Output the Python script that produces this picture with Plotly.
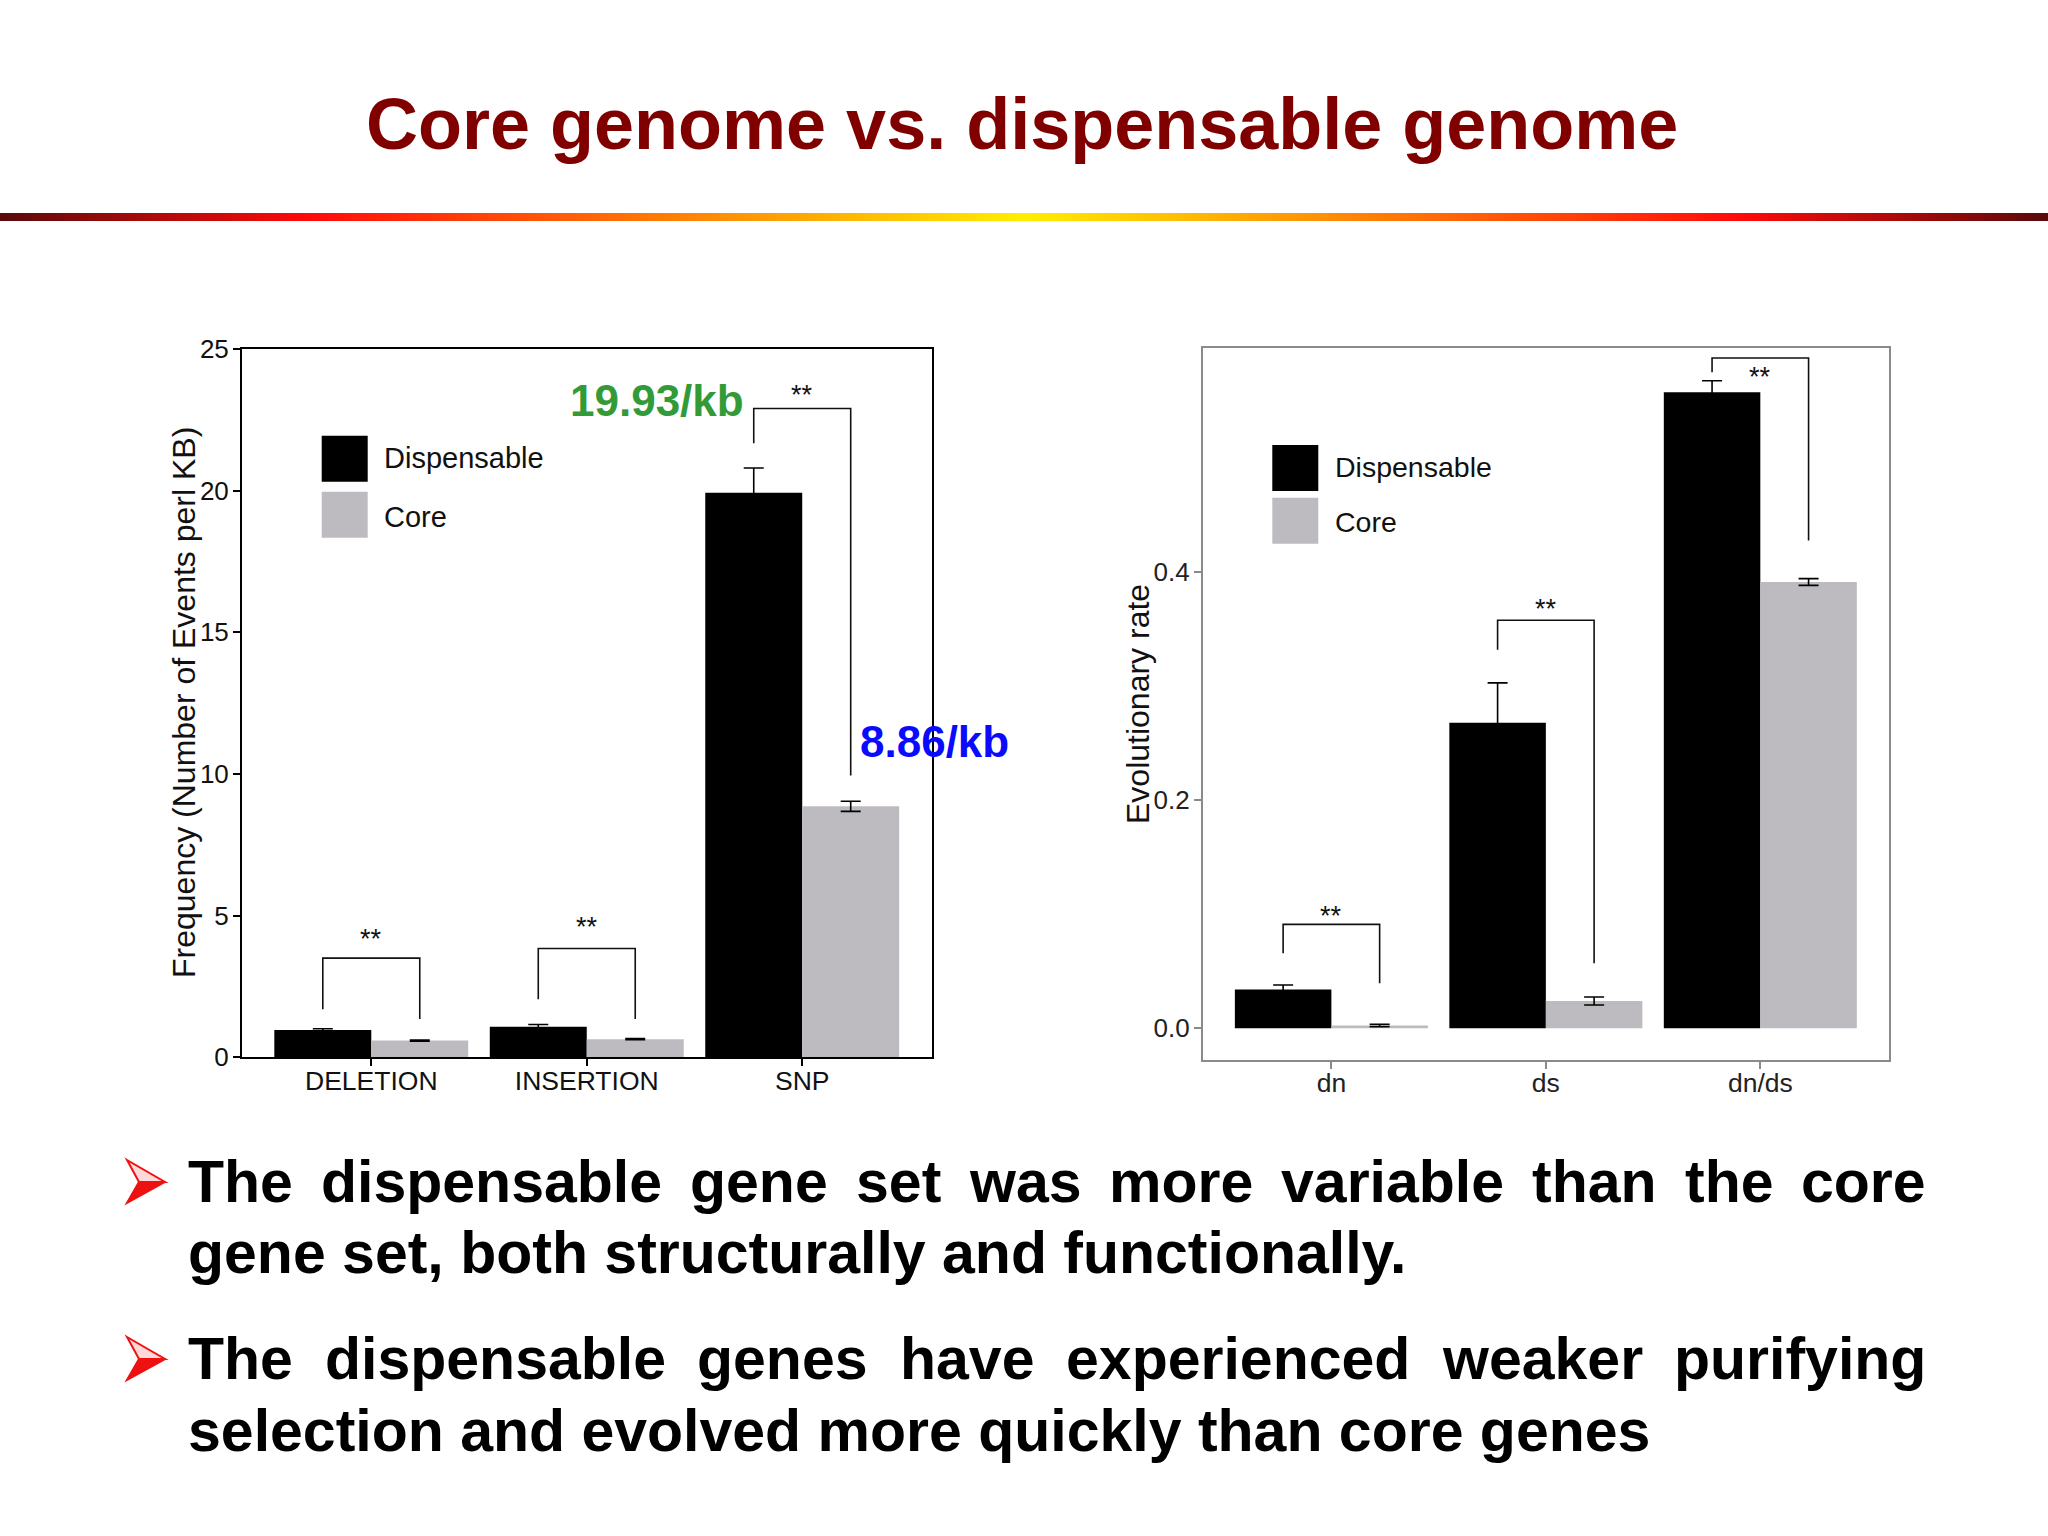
import plotly.graph_objects as go

W, H = 2048, 1536
FONT = "Liberation Sans, Arial, Helvetica, sans-serif"

# ---------------- data ----------------
left_categories = ["DELETION", "INSERTION", "SNP"]
left_dispensable = [0.96, 1.08, 19.93]
left_dispensable_err = [0.05, 0.08, 0.87]
left_core = [0.59, 0.64, 8.86]
left_core_err = [0.02, 0.02, 0.18]
left_sig_top = [3.50, 3.84, 22.90]
left_sig_left_end = [1.70, 2.05, 21.67]
left_sig_right_end = [1.35, 1.35, 9.95]
left_sig_label_y = [4.38, 4.82, 23.60]
left_yticks = [0, 5, 10, 15, 20, 25]

right_categories = ["dn", "ds", "dn/ds"]
right_dispensable = [0.034, 0.268, 0.558]
right_dispensable_err = [0.004, 0.035, 0.010]
right_core = [0.0025, 0.024, 0.3915]
right_core_err = [0.001, 0.0035, 0.003]
right_sig_top = [0.0912, 0.358, 0.588]
right_sig_left_end = [0.0658, 0.332, 0.5755]
right_sig_right_end = [0.0395, 0.057, 0.428]
right_sig_label_y = [0.104, 0.373, 0.5766]
right_yticks = [0.0, 0.2, 0.4]

series_names = ["Dispensable", "Core"]
sig_label = "**"
snp_labels = ["19.93/kb", "8.86/kb"]
left_ytitle = "Frequency (Number of Events perl KB)"
right_ytitle = "Evolutionary rate"
title_text = "Core genome vs. dispensable genome"
bullet_lines = [
    ("The dispensable gene set was more variable than the core", True),
    ("gene set, both structurally and functionally.", False),
    ("The dispensable genes have experienced weaker purifying", True),
    ("selection and evolved more quickly than core genes", False),
]

# ---------------- style ----------------
BLACK_BAR = "#000000"
GRAY_BAR = "#bdbbbf"
BARGAP = 0.1
HALF = (1 - BARGAP) / 4  # centre offset of each bar inside its group
XTICK_FS = 26.5
YTICK_FS = 26


def px(x):
    return x / W


def py(y):
    return 1 - y / H


fig = go.Figure()

panels = [
    dict(xa="x", ya="y", n=len(left_categories), d=left_dispensable, de=left_dispensable_err,
         c=left_core, ce=left_core_err, top=left_sig_top, le=left_sig_left_end,
         re=left_sig_right_end, sy=left_sig_label_y),
    dict(xa="x2", ya="y2", n=len(right_categories), d=right_dispensable, de=right_dispensable_err,
         c=right_core, ce=right_core_err, top=right_sig_top, le=right_sig_left_end,
         re=right_sig_right_end, sy=right_sig_label_y),
]

for p in panels:
    xs = list(range(p["n"]))
    for name, vals, errs, col in [(series_names[0], p["d"], p["de"], BLACK_BAR),
                                  (series_names[1], p["c"], p["ce"], GRAY_BAR)]:
        fig.add_trace(go.Bar(
            x=xs, y=vals, name=name, xaxis=p["xa"], yaxis=p["ya"],
            marker=dict(color=col, line=dict(width=0)),
            error_y=dict(type="data", array=errs, visible=True, color="#000000",
                         thickness=1.6, width=10),
            showlegend=False, hoverinfo="skip"))
    for i in xs:
        fig.add_trace(go.Scatter(
            x=[i - HALF, i - HALF, i + HALF, i + HALF],
            y=[p["le"][i], p["top"][i], p["top"][i], p["re"][i]],
            mode="lines", line=dict(color="#111111", width=1.6),
            xaxis=p["xa"], yaxis=p["ya"], showlegend=False, hoverinfo="skip"))
        fig.add_annotation(x=i, y=p["sy"][i], xref=p["xa"], yref=p["ya"], text=sig_label,
                           showarrow=False, yshift=-6, xanchor="center", yanchor="middle",
                           font=dict(size=27, color="#111111", family=FONT))

common_axis = dict(showgrid=False, zeroline=False, ticks="outside", ticklen=7,
                   tickwidth=1.5, mirror=True, showline=True, fixedrange=True)

fig.update_layout(
    width=W, height=H, autosize=False,
    margin=dict(l=0, r=0, t=0, b=0, pad=0, autoexpand=False),
    paper_bgcolor="white", plot_bgcolor="white",
    barmode="group", bargap=BARGAP, bargroupgap=0,
    showlegend=False,
    xaxis=dict(domain=[px(242), px(931.5)], range=[-0.6, 2.6], anchor="y",
               tickvals=list(range(len(left_categories))), ticktext=left_categories,
               linecolor="#000000", linewidth=2, tickcolor="#000000", ticklabelstandoff=-8,
               tickfont=dict(size=XTICK_FS, color="#111111", family=FONT), **common_axis),
    yaxis=dict(domain=[py(1057.3), py(349)], range=[0, 25], anchor="x",
               tickvals=left_yticks, ticklabelstandoff=-1,
               linecolor="#000000", linewidth=2, tickcolor="#000000",
               tickfont=dict(size=YTICK_FS, color="#111111", family=FONT), **common_axis),
    xaxis2=dict(domain=[px(1202.7), px(1889)], range=[-0.6, 2.6], anchor="y2",
                tickvals=list(range(len(right_categories))), ticktext=right_categories,
                linecolor="#8a8a8a", linewidth=1.5, tickcolor="#8a8a8a", ticklabelstandoff=-9,
                tickfont=dict(size=XTICK_FS, color="#222222", family=FONT), **common_axis),
    yaxis2=dict(domain=[py(1060), py(348.3)], range=[-0.0278, 0.5965], anchor="x2",
                tickvals=right_yticks, tickformat=".1f", ticklabelstandoff=-1,
                linecolor="#8a8a8a", linewidth=1.5, tickcolor="#8a8a8a",
                tickfont=dict(size=YTICK_FS, color="#222222", family=FONT), **common_axis),
)

shapes = []
annos = []

# axis titles
annos.append(dict(x=px(184), y=py(703), text=left_ytitle, textangle=-90,
                  font=dict(size=32, color="#111111", family=FONT)))
annos.append(dict(x=px(1138), y=py(704), text=right_ytitle, textangle=-90,
                  font=dict(size=32, color="#111111", family=FONT)))

# legends
for (lx, ly, tx, tys, fs) in [(321.7, [435.7, 491.7], 382, [458.3, 517], 29),
                              (1272.3, [445, 497.7], 1332.5, [466.7, 521.7], 28.5)]:
    for k, col in enumerate([BLACK_BAR, GRAY_BAR]):
        shapes.append(dict(type="rect", xref="paper", yref="paper",
                           x0=px(lx), x1=px(lx + 46), y0=py(ly[k]), y1=py(ly[k] + 46),
                           fillcolor=col, line=dict(width=0), layer="above"))
        annos.append(dict(x=px(tx), y=py(tys[k]), text=series_names[k], xanchor="left",
                          font=dict(size=fs, color="#111111", family=FONT)))

# SNP value labels
annos.append(dict(x=px(656.8), y=py(400.8), text="<b>%s</b>" % snp_labels[0],
                  font=dict(size=44, color="#339a38", family=FONT)))
annos.append(dict(x=px(934), y=py(741.3), text="<b>%s</b>" % snp_labels[1],
                  font=dict(size=44, color="#0a0aff", family=FONT)))

# title
annos.append(dict(x=px(1022), y=py(124), text="<b>%s</b>" % title_text,
                  font=dict(size=72, color="#800000", family=FONT)))

# gradient rule
stops = [(0.0, (90, 10, 10)), (0.15, (255, 10, 10)), (0.5, (255, 238, 0)),
         (0.85, (255, 10, 10)), (1.0, (90, 10, 10))]


def grad(t):
    for (t0, c0), (t1, c1) in zip(stops[:-1], stops[1:]):
        if t0 <= t <= t1:
            f = (t - t0) / (t1 - t0)
            return "rgb(%d,%d,%d)" % tuple(round(a + (b - a) * f) for a, b in zip(c0, c1))
    return "rgb(90,10,10)"


NSEG = 256
for k in range(NSEG):
    x0 = W * k / NSEG
    x1 = W * (k + 1) / NSEG + 0.6
    shapes.append(dict(type="rect", xref="paper", yref="paper", x0=px(x0), x1=px(min(x1, W)),
                       y0=py(221), y1=py(213), fillcolor=grad((k + 0.5) / NSEG),
                       line=dict(width=0)))

# bullet text (Arial Bold advance widths, per 1000 em)
AB = {'a': 556, 'b': 611, 'c': 556, 'd': 611, 'e': 556, 'f': 333, 'g': 611, 'h': 611,
      'i': 278, 'j': 278, 'k': 556, 'l': 278, 'm': 889, 'n': 611, 'o': 611, 'p': 611,
      'q': 611, 'r': 389, 's': 556, 't': 333, 'u': 611, 'v': 556, 'w': 778, 'x': 556,
      'y': 556, 'z': 500, 'T': 611, ',': 278, '.': 278, ' ': 278}
BFS = 59
LEFT_X, RIGHT_X = 187, 1925
line_centers = [1182, 1253, 1359, 1430.6]


def wwidth(w):
    return sum(AB.get(ch, 556) for ch in w) * BFS / 1000.0


for (txt, justify), yc in zip(bullet_lines, line_centers):
    if justify:
        words = txt.split()
        widths = [wwidth(w) for w in words]
        gap = (RIGHT_X - LEFT_X - sum(widths)) / (len(words) - 1)
        cx = LEFT_X
        for w, wd in zip(words, widths):
            annos.append(dict(x=px(cx - 1), y=py(yc), text="<b>%s</b>" % w, xanchor="left",
                              font=dict(size=BFS, color="#000000", family=FONT)))
            cx += wd + gap
    else:
        annos.append(dict(x=px(LEFT_X - 1), y=py(yc), text="<b>%s</b>" % txt, xanchor="left",
                          font=dict(size=BFS, color="#000000", family=FONT)))

# bullet arrowheads
for yc in [line_centers[0], line_centers[2]]:
    def P(pts):
        return "M " + " L ".join("%f,%f" % (px(a), py(b)) for a, b in pts) + " Z"
    shapes.append(dict(type="path", xref="paper", yref="paper",
                       path=P([(127, yc - 22), (165, yc), (139, yc)]),
                       fillcolor="#ffd8d8", line=dict(color="#ee1111", width=2)))
    shapes.append(dict(type="path", xref="paper", yref="paper",
                       path=P([(139, yc), (165, yc), (127, yc + 21)]),
                       fillcolor="#ee1111", line=dict(color="#ee1111", width=2)))

for a in annos:
    a.setdefault("xref", "paper")
    a.setdefault("yref", "paper")
    a.setdefault("showarrow", False)
    a.setdefault("xanchor", "center")
    a.setdefault("yanchor", "middle")
    fig.add_annotation(**a)

fig.update_layout(shapes=shapes)

fig.write_html("out.html", config={"displayModeBar": False},
               post_script="document.body.style.margin='0';document.body.style.overflow='hidden';")
